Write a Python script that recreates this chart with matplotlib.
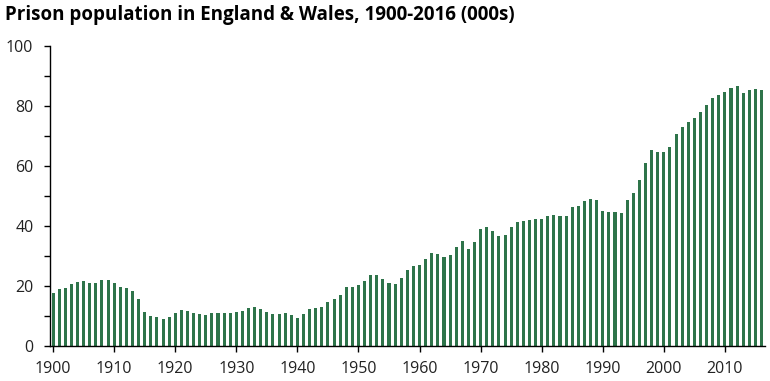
import matplotlib.pyplot as plt
import numpy as np
from matplotlib.ticker import MultipleLocator

plt.rcParams['font.family'] = ['Open Sans', 'DejaVu Sans']

years = list(range(1900, 2017))

# prison population, thousands
population = [
    17.8, 18.9, 19.4, 20.8, 21.3, 21.6, 21.0, 20.9, 22.1, 22.0,   # 1900s
    20.9, 19.8, 19.3, 18.2, 15.8, 11.3, 10.0, 9.6, 9.1, 9.7,      # 1910s
    10.9, 12.1, 11.7, 11.1, 10.8, 10.4, 10.9, 11.1, 11.1, 10.9,   # 1920s
    11.3, 11.7, 12.8, 13.0, 12.2, 11.3, 10.6, 10.6, 11.1, 10.2,   # 1930s
    9.3, 10.6, 12.2, 12.8, 12.9, 14.7, 15.7, 17.1, 19.7, 19.8,    # 1940s
    20.4, 21.7, 23.6, 23.6, 22.3, 21.0, 20.8, 22.5, 25.3, 26.6,   # 1950s
    27.0, 28.9, 30.9, 30.8, 29.6, 30.3, 33.0, 34.9, 32.4, 34.7,   # 1960s
    39.0, 39.7, 38.3, 36.7, 36.9, 39.8, 41.4, 41.7, 41.9, 42.2,   # 1970s
    42.2, 43.2, 43.7, 43.4, 43.3, 46.2, 46.7, 48.4, 48.9, 48.6,   # 1980s
    45.0, 44.8, 44.7, 44.4, 48.6, 50.9, 55.2, 61.1, 65.3, 64.8,   # 1990s
    64.6, 66.2, 70.8, 73.0, 74.7, 75.9, 78.1, 80.2, 82.6, 83.6,   # 2000s
    84.7, 85.9, 86.7, 84.2, 85.3, 85.6, 85.3,                     # 2010s
]

bar_color = '#2e744a'


def main():
    fig = plt.figure(figsize=(7.7, 3.81), dpi=100)
    ax = fig.add_axes([0.065, 0.092, 0.928, 0.787])

    ax.bar(years, population, width=0.5, color=bar_color, linewidth=0)

    ax.set_xlim(1899.5, 2016.5)
    ax.set_ylim(0, 100)
    ax.set_xticks(range(1900, 2011, 10))
    ax.yaxis.set_major_locator(MultipleLocator(20))
    ax.yaxis.set_minor_locator(MultipleLocator(10))

    for s in ['top', 'right']:
        ax.spines[s].set_visible(False)
    for s in ['left', 'bottom']:
        ax.spines[s].set_color('black')
        ax.spines[s].set_linewidth(1.0)

    ax.tick_params(axis='both', which='both', direction='out', length=4,
                   width=1, colors='black', labelsize=11.5, labelcolor='#222222')
    ax.tick_params(axis='y', pad=8)
    ax.tick_params(axis='x', pad=6.5)

    fig.text(0.007, 0.96, 'Prison population in England & Wales, 1900-2016 (000s)',
             fontsize=13.5, fontweight='bold', ha='left', va='center', color='black')

    fig.savefig('out.png', dpi=100)
    plt.close(fig)


if __name__ == '__main__':
    main()
